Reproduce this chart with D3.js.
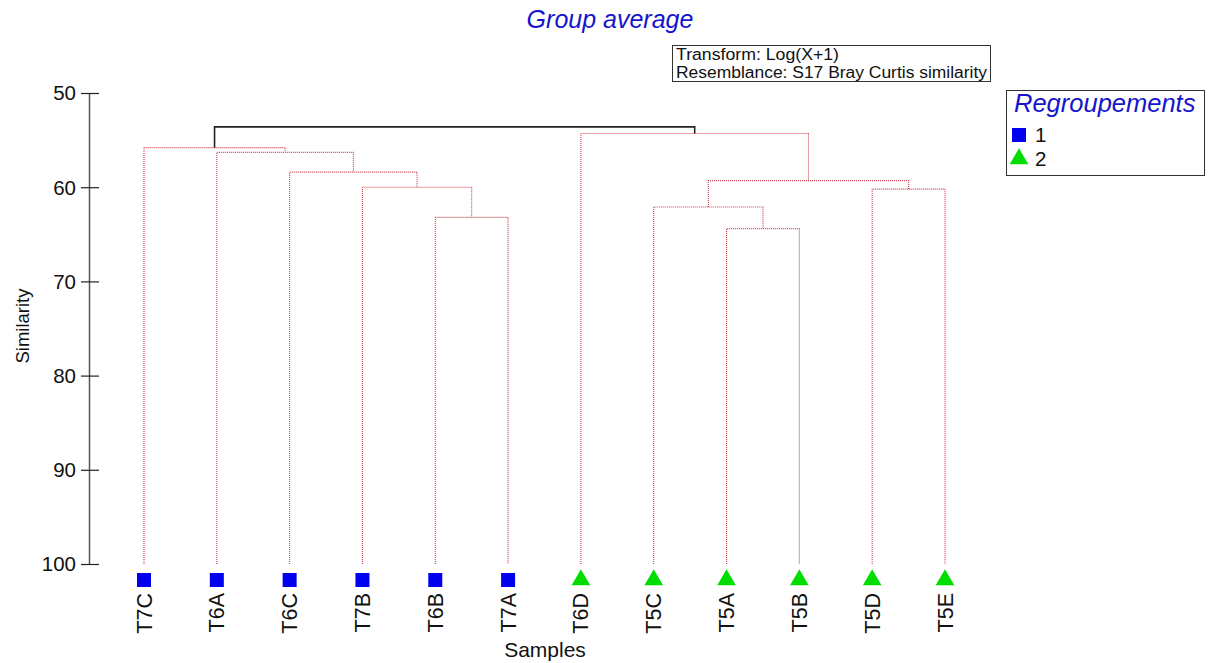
<!DOCTYPE html>
<html>
<head>
<meta charset="utf-8">
<script src="https://cdn.jsdelivr.net/npm/d3@7"></script>
<style>
  html, body { margin: 0; padding: 0; background: #fff; }
  svg { display: block; font-family: Arial, "Liberation Sans", sans-serif; }
</style>
</head>
<body>
<svg id="chart" width="1208" height="663"></svg>
<script>
// Samples in dendrogram order and their group
const leaves = ["T7C", "T6A", "T6C", "T7B", "T6B", "T7A", "T6D", "T5C", "T5A", "T5B", "T5D", "T5E"];
const groups = [1, 1, 1, 1, 1, 1, 2, 2, 2, 2, 2, 2];

// Agglomeration steps: [id, left child, right child, similarity (%)]
const merges = [
  ["m0", "T6B", "T7A", 63.2],
  ["m1", "T7B", "m0", 60.0],
  ["m2", "T6C", "m1", 58.4],
  ["m3", "T6A", "m2", 56.3],
  ["m4", "T7C", "m3", 55.8],
  ["m5", "T5A", "T5B", 64.4],
  ["m6", "T5C", "m5", 62.1],
  ["m7", "T5D", "T5E", 60.2],
  ["m8", "m6", "m7", 59.3],
  ["m9", "T6D", "m8", 54.3],
  ["m10", "m4", "m9", 53.6]
];

const simTicks = [50, 60, 70, 80, 90, 100];
const groupNames = ["1", "2"];
const groupColors = ["#0000ee", "#00dd00"];
const infoLines = ["Transform: Log(X+1)", "Resemblance: S17 Bray Curtis similarity"];

const svg = d3.select("#chart");

const x = d3.scalePoint().domain(leaves).range([144, 945]);
const y = d3.scaleLinear().domain([50, 100]).range([93, 564]);

// Node positions: leaves at 100 % similarity, merges centred over their children
const nodes = new Map();
leaves.forEach(name => nodes.set(name, { x: x(name), h: 100 }));
merges.forEach(([id, a, b, s]) => {
  nodes.set(id, { x: (nodes.get(a).x + nodes.get(b).x) / 2, h: s, a, b });
});
const rootId = merges[merges.length - 1][0];

// Branches
const gTree = svg.append("g");
merges.forEach(([id, a, b, s]) => {
  const na = nodes.get(a), nb = nodes.get(b);
  const isRoot = id === rootId;
  const style = sel => isRoot
    ? sel.attr("stroke", "#222").attr("stroke-width", 1.6)
    : sel.attr("stroke", "#c8404c").attr("stroke-width", 1.1).attr("stroke-dasharray", "1,1");
  const p = d3.path();
  p.moveTo(na.x, y(na.h));
  p.lineTo(na.x, y(s));
  p.lineTo(nb.x, y(s));
  p.lineTo(nb.x, y(nb.h));
  gTree.append("path").attr("d", p.toString()).attr("fill", "none").call(style);
});

// Y axis
const axis = svg.append("g");
axis.append("line")
  .attr("x1", 89.5).attr("x2", 89.5)
  .attr("y1", y(50)).attr("y2", y(100))
  .attr("stroke", "#555").attr("stroke-width", 1.5);
axis.selectAll("line.tick").data(simTicks).join("line")
  .attr("class", "tick")
  .attr("x1", 81).attr("x2", 99)
  .attr("y1", d => y(d) + 0.5).attr("y2", d => y(d) + 0.5)
  .attr("stroke", "#222").attr("stroke-width", 1.2);
axis.selectAll("text").data(simTicks).join("text")
  .attr("x", 76).attr("y", d => y(d))
  .attr("dy", "0.36em")
  .attr("text-anchor", "end")
  .attr("font-size", 20.5)
  .attr("fill", "#111")
  .text(d => d);

svg.append("text")
  .attr("transform", "translate(29,326) rotate(-90)")
  .attr("text-anchor", "middle")
  .attr("font-size", 18.5)
  .attr("fill", "#111")
  .text("Similarity");

// Sample markers
const markerY = 580;
const symSquare = d3.symbol().type(d3.symbolSquare).size(196);
const symTri = d3.symbol().type(d3.symbolTriangle).size(150);
svg.append("g").selectAll("path").data(leaves).join("path")
  .attr("transform", d => `translate(${x(d)},${markerY})`)
  .attr("d", (d, i) => groups[i] === 1 ? symSquare() : symTri())
  .attr("fill", (d, i) => groupColors[groups[i] - 1]);

// Sample labels
svg.append("g").selectAll("text").data(leaves).join("text")
  .attr("transform", d => `translate(${x(d) + 7.5},593) rotate(-90)`)
  .attr("text-anchor", "end")
  .attr("font-size", 21.5)
  .attr("fill", "#111")
  .text(d => d);

svg.append("text")
  .attr("x", 545).attr("y", 657)
  .attr("text-anchor", "middle")
  .attr("font-size", 21)
  .attr("fill", "#111")
  .text("Samples");

// Title
svg.append("text")
  .attr("x", 610).attr("y", 28)
  .attr("text-anchor", "middle")
  .attr("font-size", 25)
  .attr("font-style", "italic")
  .attr("fill", "#1515cc")
  .text("Group average");

// Method box
const info = svg.append("g");
info.append("rect")
  .attr("x", 672.5).attr("y", 45.5).attr("width", 318).attr("height", 36)
  .attr("fill", "#fff").attr("stroke", "#333").attr("stroke-width", 1);
info.selectAll("text").data(infoLines).join("text")
  .attr("x", 676)
  .attr("y", (d, i) => 60 + i * 18)
  .attr("font-size", 16)
  .attr("textLength", (d, i) => i === 0 ? 163 : 311)
  .attr("lengthAdjust", "spacingAndGlyphs")
  .attr("fill", "#111")
  .text(d => d);

// Legend
const legend = svg.append("g");
legend.append("rect")
  .attr("x", 1006.5).attr("y", 90.5).attr("width", 198).attr("height", 85)
  .attr("fill", "#fff").attr("stroke", "#333").attr("stroke-width", 1);
legend.append("text")
  .attr("x", 1014).attr("y", 112)
  .attr("font-size", 25.5)
  .attr("font-style", "italic")
  .attr("fill", "#1515cc")
  .text("Regroupements");
const legendRows = legend.selectAll("g.row").data(groupNames).join("g")
  .attr("class", "row")
  .attr("transform", (d, i) => `translate(1019,${135 + i * 24})`);
legendRows.append("path")
  .attr("d", (d, i) => i === 0 ? symSquare() : symTri())
  .attr("fill", (d, i) => groupColors[i]);
legendRows.append("text")
  .attr("x", 16).attr("y", 0).attr("dy", "0.36em")
  .attr("font-size", 20.5)
  .attr("fill", "#111")
  .text(d => d);
</script>
</body>
</html>
